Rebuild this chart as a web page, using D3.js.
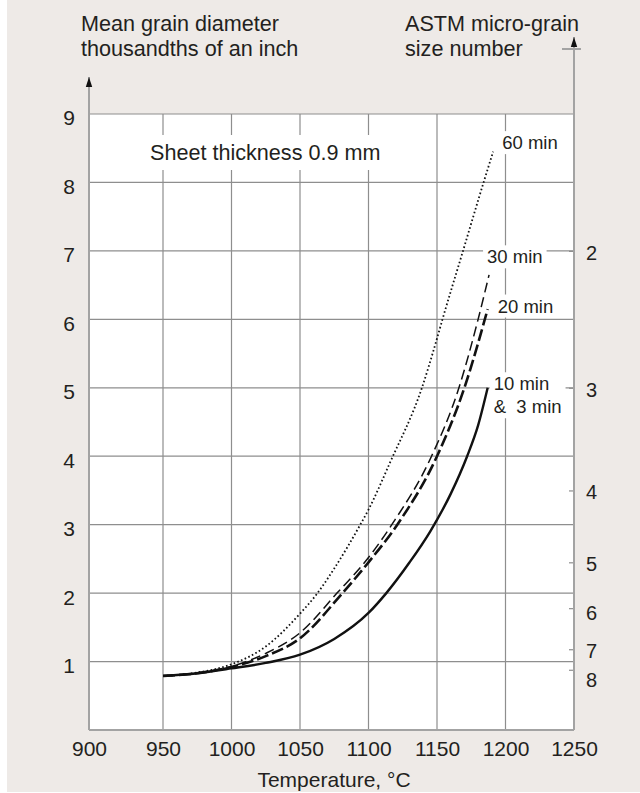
<!DOCTYPE html>
<html>
<head>
<meta charset="utf-8">
<script src="https://cdn.jsdelivr.net/npm/d3@7"></script>
<style>
  body { margin: 0; background: #fff; }
  text { font-family: "Liberation Sans", Arial, sans-serif; fill: #231f20; }
</style>
</head>
<body>
<script>
// axis ticks
var tempTicks = [900, 950, 1000, 1050, 1100, 1150, 1200, 1250]
var diamTicks = [1, 2, 3, 4, 5, 6, 7, 8, 9]
var astmNumbers = [2, 3, 4, 5, 6, 7, 8]
var astmDiameters = [7.0, 5.0, 3.5, 2.45, 1.78, 1.18, 0.88]

// curves (temperature in °C, diameter in thou)
var temp60 = [950, 975, 1000, 1025, 1050, 1062, 1075, 1094, 1100, 1116, 1139, 1150, 1154, 1169, 1184, 1191]
var diam60 = [0.79, 0.84, 0.96, 1.22, 1.70, 1.98, 2.36, 3.0, 3.22, 3.92, 5.0, 5.72, 6.0, 7.0, 8.0, 8.45]
var temp30 = [950, 975, 1000, 1025, 1050, 1077, 1100, 1117, 1146, 1166, 1180, 1188]
var diam30 = [0.79, 0.83, 0.93, 1.12, 1.42, 2.0, 2.52, 3.0, 4.0, 5.0, 6.0, 6.65]
var temp20 = [950, 975, 1000, 1025, 1050, 1081, 1100, 1121, 1150, 1170, 1187]
var diam20 = [0.79, 0.83, 0.92, 1.08, 1.34, 2.0, 2.45, 3.0, 4.0, 5.0, 6.15]
var temp10 = [950, 975, 1000, 1025, 1050, 1075, 1100, 1113, 1130, 1145, 1160, 1172, 1180, 1187]
var diam10 = [0.79, 0.83, 0.9, 0.98, 1.1, 1.33, 1.71, 2.0, 2.45, 2.9, 3.45, 4.0, 4.45, 5.0]

var W = 640, H = 793

var x = d3.scaleLinear().domain([900, 950, 1250]).range([89, 163, 574])
var y = d3.scaleLinear().domain([0, 9]).range([730, 114])

var svg = d3.select('body').append('svg')
  .attr('width', W)
  .attr('height', H)

var defs = svg.append('defs')
defs.append('marker')
  .attr('id', 'arrow')
  .attr('viewBox', '0 -4 10 8')
  .attr('refX', 10)
  .attr('refY', 0)
  .attr('markerUnits', 'userSpaceOnUse')
  .attr('markerWidth', 10)
  .attr('markerHeight', 8)
  .attr('orient', 'auto')
 .append('path')
  .attr('d', 'M0,-3.2L10,0L0,3.2Z')
  .style('fill', '#111')

// panel and plot background
svg.append('rect')
  .attr('x', 7).attr('y', 0)
  .attr('width', W - 7).attr('height', H - 1)
  .style('fill', '#eeeae7')

svg.append('rect')
  .attr('x', x(900)).attr('y', y(9))
  .attr('width', x(1250) - x(900)).attr('height', y(0) - y(9))
  .style('fill', '#fff')

// grid
var grid = svg.append('g')
  .style('stroke', '#8e8e8e')
  .style('stroke-width', '1.2px')

grid.selectAll('.hline')
  .data(diamTicks)
  .enter().append('line')
  .attr('x1', x(900)).attr('x2', x(1250))
  .attr('y1', function(d) { return y(d) })
  .attr('y2', function(d) { return y(d) })

grid.selectAll('.vline')
  .data(tempTicks.slice(1, -1))
  .enter().append('line')
  .attr('x1', function(d) { return x(d) })
  .attr('x2', function(d) { return x(d) })
  .attr('y1', y(0)).attr('y2', y(9))

// curves
var line = d3.line()
  .x(function(d) { return x(d[0]) })
  .y(function(d) { return y(d[1]) })
  .curve(d3.curveMonotoneX)

var series = [
  { name: ['60 min'], temp: temp60, diam: diam60, dash: '1.6,2.4', width: 1.8, dx: 9, dy: -9 },
  { name: ['30 min'], temp: temp30, diam: diam30, dash: '10,5', width: 1.5, dx: -2, dy: -18 },
  { name: ['20 min'], temp: temp20, diam: diam20, dash: '12,4', width: 2.6, dx: 10, dy: -3 },
  { name: ['10 min', '&  3 min'], temp: temp10, diam: diam10, dash: null, width: 2.4, dx: 6, dy: -4 }
]

svg.selectAll('.curve')
  .data(series)
  .enter().append('path')
  .attr('class', 'curve')
  .attr('d', function(s) { return line(d3.zip(s.temp, s.diam)) })
  .style('fill', 'none')
  .style('stroke', '#111')
  .style('stroke-width', function(s) { return s.width + 'px' })
  .style('stroke-dasharray', function(s) { return s.dash })
  .style('stroke-linecap', 'butt')

// labels with white boxes that cut the grid
function boxed(g, pad) {
  var b = g.node().getBBox()
  g.insert('rect', ':first-child')
    .attr('x', b.x - pad[0]).attr('y', b.y - pad[1])
    .attr('width', b.width + 2 * pad[0]).attr('height', b.height + 2 * pad[1])
    .style('fill', '#fff')
}

series.forEach(function(s) {
  var n = s.temp.length - 1
  var g = svg.append('g')
    .attr('transform', 'translate(' + (x(s.temp[n]) + s.dx) + ',' + (y(s.diam[n]) + s.dy) + ')')
  g.selectAll('text')
    .data(s.name)
    .enter().append('text')
    .attr('y', function(d, i) { return i * 23 })
    .attr('dy', '0.35em')
    .style('font-size', '18.5px')
    .style('white-space', 'pre')
    .text(function(d) { return d })
  boxed(g, [4, 1])
})

var note = svg.append('g')
note.append('text')
  .attr('x', 150).attr('y', 160)
  .style('font-size', '21.6px')
  .text('Sheet thickness 0.9 mm')
boxed(note, [8, 5])

// left axis
var left = svg.append('g')
  .attr('transform', 'translate(' + x(900) + ',0)')
  .call(d3.axisLeft(y).tickValues(diamTicks).tickSize(0).tickPadding(14))
left.select('.domain').remove()
left.selectAll('text')
  .attr('dy', '0.52em')
  .style('font-size', '21px')
  .style('fill', '#231f20')
  .style('font-family', '"Liberation Sans", Arial, sans-serif')

// bottom axis
var bottom = svg.append('g')
  .attr('transform', 'translate(0,' + y(0) + ')')
  .call(d3.axisBottom(x).tickValues(tempTicks).tickFormat(d3.format('d')).tickSize(0).tickPadding(11))
bottom.select('.domain').remove()
bottom.selectAll('text')
  .style('font-size', '21px')
  .style('fill', '#231f20')
  .style('font-family', '"Liberation Sans", Arial, sans-serif')

// right axis, ASTM numbers on the diameter scale
var right = svg.append('g')
  .attr('transform', 'translate(' + x(1250) + ',0)')
  .call(d3.axisRight(y)
    .tickValues(astmDiameters)
    .tickFormat(function(d, i) { return astmNumbers[i] })
    .tickSizeInner(-5).tickSizeOuter(0).tickPadding(12))
right.select('.domain').remove()
right.selectAll('line').style('stroke', '#8e8e8e').style('stroke-width', '1.2px')
right.selectAll('text')
  .attr('dy', function(d, i) { return astmNumbers[i] == 8 ? '0.85em' : astmNumbers[i] == 6 ? '0.55em' : '0.42em' })
  .style('font-size', '20px')
  .style('fill', '#231f20')
  .style('font-family', '"Liberation Sans", Arial, sans-serif')

// axis lines with arrows
var axes = svg.append('g')
  .style('stroke', '#a3a3a3')
  .style('stroke-width', '2px')

axes.append('line')
  .attr('x1', x(900)).attr('x2', x(1250))
  .attr('y1', y(0)).attr('y2', y(0))

axes.append('line')
  .attr('x1', x(900)).attr('x2', x(900))
  .attr('y1', y(0)).attr('y2', 77)
  .attr('marker-end', 'url(#arrow)')

axes.append('line')
  .attr('x1', x(1250)).attr('x2', x(1250))
  .attr('y1', y(0)).attr('y2', 37)
  .attr('marker-end', 'url(#arrow)')

axes.append('line')
  .attr('x1', x(1250) - 12).attr('x2', x(1250) + 7)
  .attr('y1', 49).attr('y2', 49)

// titles
var head = svg.append('g').style('font-size', '21.6px')
head.append('text').attr('x', 81).attr('y', 31).text('Mean grain diameter')
head.append('text').attr('x', 81).attr('y', 56).text('thousandths of an inch')
head.append('text').attr('x', 405).attr('y', 31).text('ASTM micro-grain')
head.append('text').attr('x', 405).attr('y', 56).text('size number')

svg.append('text')
  .attr('x', 334).attr('y', 787)
  .attr('text-anchor', 'middle')
  .style('font-size', '21px')
  .text('Temperature, °C')
</script>
</body>
</html>
